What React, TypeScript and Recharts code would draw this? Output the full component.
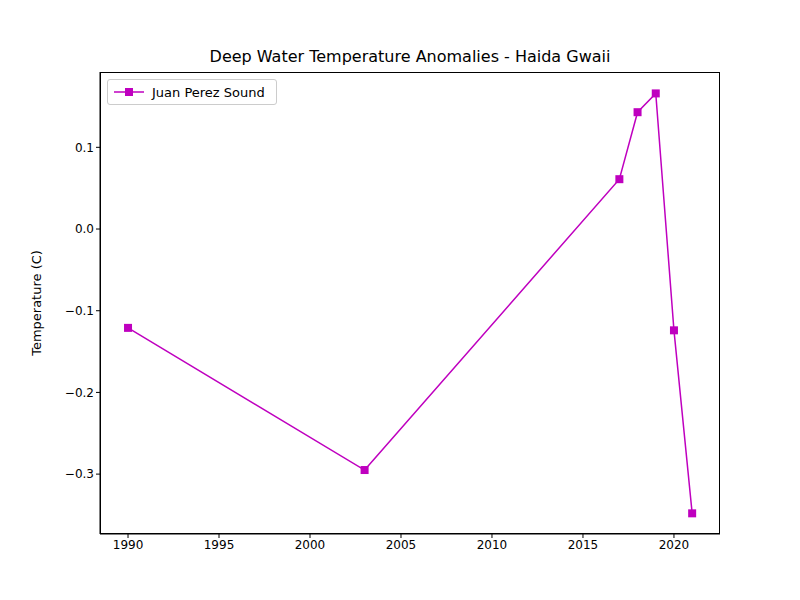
import { LineChart, Line, XAxis, YAxis } from 'recharts'

const YEARS = [1990, 2003, 2017, 2018, 2019, 2020, 2021]
const ANOMALY = [-0.121, -0.295, 0.061, 0.143, 0.166, -0.124, -0.348]
const X_TICKS = [1990, 1995, 2000, 2005, 2010, 2015, 2020]
const Y_TICKS = [-0.3, -0.2, -0.1, 0.0, 0.1]

const data = YEARS.map((year, i) => ({ year, value: ANOMALY[i] }))
const COLOR = '#bf00bf'
const FONT = 'DejaVu Sans'

const fmtY = (v: number) => (v < 0 ? '\u2212' + Math.abs(v).toFixed(1) : v.toFixed(1))

function SquareDot(props: any) {
  const { cx, cy } = props
  if (cx == null || cy == null) return null
  return <rect x={cx - 4} y={cy - 4} width={8} height={8} fill={COLOR} />
}

export default function App() {
  return (
    <div style={{ position: 'absolute', left: 0, top: 0, width: 800, height: 600, background: '#fff', fontFamily: FONT }}>
      <div style={{ position: 'absolute', top: 47, width: 820, textAlign: 'center', fontSize: 16 }}>
        Deep Water Temperature Anomalies - Haida Gwaii
      </div>
      <LineChart width={800} height={600} data={data} margin={{ top: 72, right: 80, bottom: 0, left: 0 }}>
        <XAxis
          dataKey="year"
          type="number"
          domain={[1988.46, 2022.53]}
          ticks={X_TICKS}
          allowDataOverflow
          height={66}
          tickSize={4}
          tick={{ fill: '#000', fontSize: 12, fontFamily: FONT }}
          stroke="#000"
        />
        <YAxis
          type="number"
          domain={[-0.3733, 0.1922]}
          ticks={Y_TICKS}
          allowDataOverflow
          width={100}
          tickSize={4}
          tickFormatter={fmtY}
          tick={{ fill: '#000', fontSize: 12, fontFamily: FONT }}
          stroke="#000"
          label={{ value: 'Temperature (C)', angle: -90, position: 'insideLeft', offset: 36, style: { fill: '#000', fontSize: 13, fontFamily: FONT, textAnchor: 'middle' } }}
        />
        <Line dataKey="value" stroke={COLOR} strokeWidth={1.5} dot={<SquareDot />} isAnimationActive={false} />
      </LineChart>
      <div style={{ position: 'absolute', left: 100, top: 72, width: 620, height: 462, border: '1px solid #000', boxSizing: 'border-box', pointerEvents: 'none' }} />
      <div style={{ position: 'absolute', left: 107, top: 79, width: 168, height: 24, border: '1px solid #ccc', borderRadius: 3, background: '#fff', display: 'flex', alignItems: 'center', fontSize: 13 }}>
        <svg width={40} height={12} style={{ marginLeft: 4 }}>
          <line x1={2} y1={6} x2={32} y2={6} stroke={COLOR} strokeWidth={1.5} />
          <rect x={13} y={2} width={8} height={8} fill={COLOR} />
        </svg>
        <span>Juan Perez Sound</span>
      </div>
    </div>
  )
}
